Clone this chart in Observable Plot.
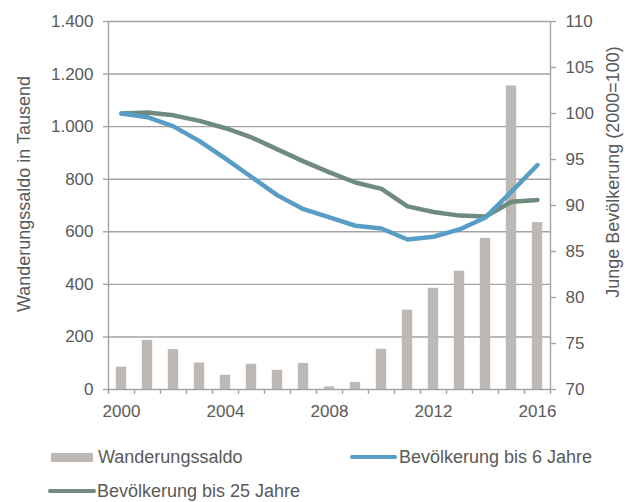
<!DOCTYPE html>
<html><head><meta charset="utf-8">
<script src="https://cdn.jsdelivr.net/npm/d3@7"></script>
<script src="https://cdn.jsdelivr.net/npm/@observablehq/plot@0.6"></script>
<style>
body{margin:0;background:#fff;font-family:"Liberation Sans",Arial,sans-serif;color:#595959;}
#wrap{position:relative;width:625px;height:502px;overflow:hidden;}
.ttl{position:absolute;font-size:18px;white-space:nowrap;color:#595959;}
.leg{position:absolute;font-size:18px;white-space:nowrap;color:#595959;line-height:20px;}
.sw{position:absolute;}
</style></head><body>
<div id="wrap"></div>
<script>
const years = [2000,2001,2002,2003,2004,2005,2006,2007,2008,2009,2010,2011,2012,2013,2014,2015,2016];
const wanderungssaldo = [85,187,152,101,54,96,73,99,10,27,153,302,385,450,575,1155,635];
const bis6 = [100,99.6,98.6,97.0,95.1,93.1,91.1,89.6,88.7,87.8,87.5,86.3,86.6,87.4,88.7,91.5,94.4];
const bis25 = [100,100.1,99.8,99.2,98.4,97.4,96.1,94.8,93.6,92.5,91.8,89.9,89.3,88.9,88.8,90.4,90.6];
const leftTicks = [0,200,400,600,800,1000,1200,1400];
const rightTicks = [70,75,80,85,90,95,100,105,110];
const xLabelTicks = [2000,2004,2008,2012,2016];

const seriesNames = ["Wanderungssaldo","Bevölkerung bis 6 Jahre","Bevölkerung bis 25 Jahre"];
const colors = {bar:"#bdb8b3", blue:"#589dc5", green:"#6f8b7e", grid:"#a3a3a3", text:"#595959"};

// right axis (70..110) mapped onto left axis (0..1400)
const toLeft = v => (v - 70) * 35;
const fromLeft = y => y / 35 + 70;

const bars = years.map((y,i)=>({year:y, value:wanderungssaldo[i]}));
const l6 = years.map((y,i)=>({year:y, v:toLeft(bis6[i])}));
const l25 = years.map((y,i)=>({year:y, v:toLeft(bis25[i])}));
const boundaries = years.map(y=>y-0.5).concat([years[years.length-1]+0.5]);

const de = d3.formatLocale({decimal:",", thousands:".", grouping:[3], currency:["","€"]}).format(",");

const chart = Plot.plot({
  width:625, height:430,
  marginLeft:108, marginRight:75, marginTop:21, marginBottom:41,
  style:{fontFamily:'"Liberation Sans", Arial, sans-serif', fontSize:"17px", color:colors.text, background:"#fff", overflow:"visible"},
  x:{type:"linear", domain:[1999.5,2016.5]},
  y:{domain:[0,1400]},
  marks:[
    Plot.ruleY(leftTicks, {stroke:colors.grid, strokeWidth:1.4}),
    Plot.rectY(bars, {x1:d=>d.year-0.2, x2:d=>d.year+0.2, y:"value", fill:colors.bar}),
    Plot.ruleX([1999.5, 2016.5], {y1:0, y2:1400, stroke:colors.grid, strokeWidth:1.4}),
    Plot.axisY(leftTicks, {anchor:"left", tickSize:5, tickPadding:10, tickFormat:de, stroke:colors.grid, strokeWidth:1.4, fill:colors.text, label:null}),
    Plot.axisY(rightTicks.map(toLeft), {anchor:"right", tickSize:5, tickPadding:10, tickFormat:d=>String(Math.round(fromLeft(d))), stroke:colors.grid, strokeWidth:1.4, fill:colors.text, label:null}),
    Plot.axisX(boundaries, {anchor:"bottom", tickSize:5, tickFormat:()=>"", stroke:colors.grid, strokeWidth:1.4, label:null}),
    Plot.axisX(xLabelTicks, {anchor:"bottom", tickSize:0, tickPadding:15, tickFormat:d=>String(d), fill:colors.text, label:null}),
    Plot.lineY(l25, {x:"year", y:"v", stroke:colors.green, strokeWidth:4.5, curve:"linear", strokeLinecap:"round", strokeLinejoin:"round"}),
    Plot.lineY(l6, {x:"year", y:"v", stroke:colors.blue, strokeWidth:4.5, curve:"linear", strokeLinecap:"round", strokeLinejoin:"round"})
  ]
});
chart.style.position="absolute"; chart.style.left="0"; chart.style.top="0";
const wrap = document.getElementById("wrap");
wrap.appendChild(chart);

function addTitle(text, cx, cy){
  const d=document.createElement("div"); d.className="ttl"; d.textContent=text;
  d.style.left=cx+"px"; d.style.top=cy+"px";
  d.style.transform="translate(-50%,-50%) rotate(-90deg)";
  wrap.appendChild(d);
}
addTitle("Wanderungssaldo in Tausend", 24, 194);
addTitle("Junge Bevölkerung (2000=100)", 613, 172);

function addLegend(kind, color, x1, x2, y, label, tx){
  const s=document.createElement("div"); s.className="sw";
  if(kind==="rect"){ s.style.left=x1+"px"; s.style.width=(x2-x1)+"px"; s.style.top=(y-4.5)+"px"; s.style.height="9px"; s.style.background=color; }
  else { s.style.left=x1+"px"; s.style.width=(x2-x1)+"px"; s.style.top=(y-2.25)+"px"; s.style.height="4.5px"; s.style.background=color; s.style.borderRadius="3px"; }
  wrap.appendChild(s);
  const t=document.createElement("div"); t.className="leg"; t.textContent=label;
  t.style.left=tx+"px"; t.style.top=(y-10)+"px";
  wrap.appendChild(t);
}
addLegend("rect", colors.bar, 51, 93, 457, seriesNames[0], 98);
addLegend("line", colors.blue, 350, 397, 457, seriesNames[1], 399);
addLegend("line", colors.green, 48, 96, 491, seriesNames[2], 97);
</script>
</body></html>
